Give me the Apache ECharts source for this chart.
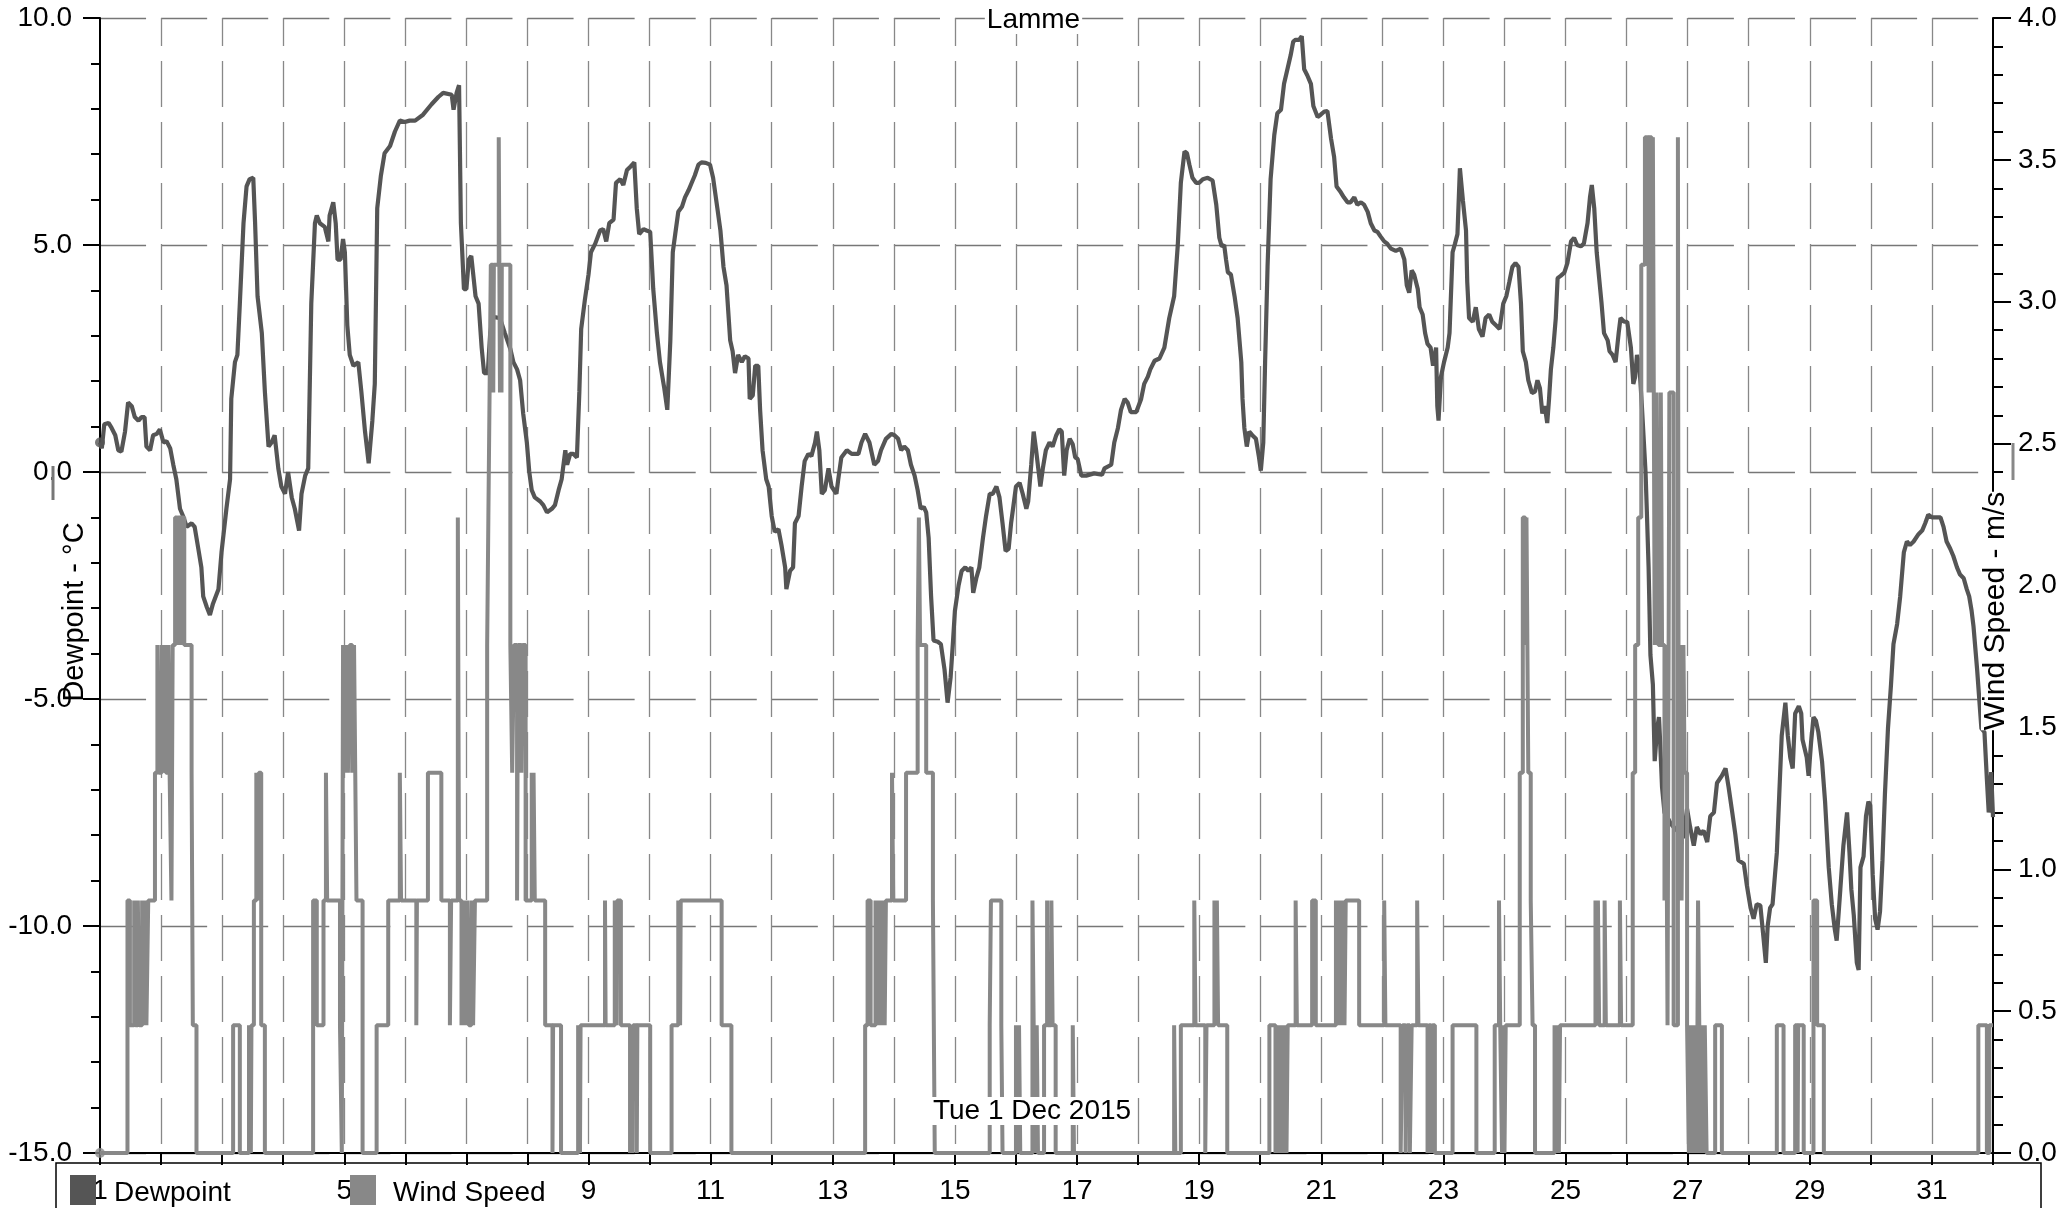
<!DOCTYPE html>
<html><head><meta charset="utf-8">
<script src="https://cdn.jsdelivr.net/npm/echarts@6/dist/echarts.min.js"></script>
<style>html,body{margin:0;padding:0;background:#fff}#c{width:2067px;height:1208px}</style>
</head><body><div id="c"></div>
<script>
const chartTitle = 'Lamme';
const dateLabel = 'Tue 1 Dec 2015';
const seriesNames = ['Dewpoint', 'Wind Speed'];
const leftAxisName = 'Dewpoint - °C';
const rightAxisName = 'Wind Speed - m/s';
const dayLabels = ['1','3','5','7','9','11','13','15','17','19','21','23','25','27','29','31'];
const dewTickLabels = ['-15.0','-10.0','-5.0','0.0','5.0','10.0'];
const windTickLabels = ['0.0','0.5','1.0','1.5','2.0','2.5','3.0','3.5','4.0'];

// [days since 1 Dec 00:00, dewpoint °C]
const dewpoint = [
[0.00,0.65],[0.03,0.52],[0.07,1.05],[0.14,1.08],[0.19,0.97],[0.25,0.81],[0.30,0.48],[0.35,0.45],[0.41,0.89],[0.46,1.53],
[0.52,1.45],[0.57,1.21],[0.63,1.13],[0.68,1.21],[0.73,1.21],[0.76,0.56],[0.82,0.48],[0.87,0.81],[0.93,0.84],[0.98,0.94],
[1.04,0.65],[1.09,0.68],[1.15,0.52],[1.20,0.16],[1.25,-0.16],[1.31,-0.81],[1.36,-0.97],[1.42,-1.21],[1.50,-1.13],[1.55,-1.21],
[1.61,-1.69],[1.66,-2.10],[1.69,-2.74],[1.75,-2.98],[1.80,-3.15],[1.85,-2.90],[1.94,-2.58],[1.99,-1.77],[2.07,-0.81],[2.13,-0.16],
[2.15,1.61],[2.21,2.42],[2.25,2.58],[2.29,3.71],[2.35,5.48],[2.40,6.29],[2.45,6.45],[2.51,6.48],[2.54,5.48],[2.58,3.87],
[2.65,3.06],[2.70,1.77],[2.76,0.56],[2.81,0.65],[2.86,0.81],[2.92,0.08],[2.97,-0.32],[3.03,-0.48],[3.08,0.00],[3.14,-0.56],
[3.19,-0.81],[3.26,-1.29],[3.30,-0.48],[3.36,-0.08],[3.41,0.08],[3.46,3.71],[3.52,5.48],[3.55,5.65],[3.60,5.48],[3.68,5.40],
[3.74,5.08],[3.76,5.65],[3.82,5.94],[3.86,5.48],[3.89,4.68],[3.94,4.68],[3.98,5.13],[4.01,4.84],[4.05,3.23],[4.09,2.58],
[4.15,2.34],[4.23,2.42],[4.28,1.77],[4.34,0.89],[4.40,0.19],[4.46,1.13],[4.50,1.94],[4.54,5.81],[4.60,6.53],[4.66,7.02],
[4.75,7.18],[4.83,7.50],[4.91,7.74],[4.99,7.71],[5.07,7.74],[5.16,7.74],[5.29,7.87],[5.43,8.10],[5.54,8.26],[5.62,8.35],
[5.76,8.31],[5.79,7.98],[5.84,8.35],[5.88,8.52],[5.91,5.48],[5.96,4.03],[6.00,4.03],[6.04,4.68],[6.08,4.76],[6.15,3.87],
[6.20,3.71],[6.25,2.74],[6.29,2.18],[6.35,2.18],[6.39,3.06],[6.43,3.42],[6.55,3.39],[6.63,3.06],[6.72,2.71],[6.77,2.42],
[6.83,2.26],[6.88,2.02],[6.93,1.29],[6.99,0.65],[7.03,0.00],[7.07,-0.40],[7.12,-0.56],[7.21,-0.65],[7.26,-0.73],[7.32,-0.89],
[7.40,-0.81],[7.45,-0.73],[7.51,-0.40],[7.56,-0.16],[7.62,0.48],[7.65,0.16],[7.70,0.40],[7.75,0.40],[7.81,0.32],[7.85,1.77],
[7.88,3.15],[7.94,3.79],[8.00,4.35],[8.04,4.84],[8.11,5.03],[8.19,5.32],[8.24,5.35],[8.29,5.08],[8.34,5.48],[8.41,5.56],
[8.45,6.37],[8.52,6.45],[8.57,6.32],[8.63,6.65],[8.69,6.73],[8.75,6.82],[8.79,5.81],[8.83,5.24],[8.90,5.35],[8.95,5.32],
[9.01,5.29],[9.06,4.03],[9.12,3.06],[9.17,2.42],[9.24,1.85],[9.29,1.37],[9.34,2.90],[9.38,4.84],[9.42,5.24],[9.47,5.73],
[9.53,5.84],[9.58,6.05],[9.64,6.21],[9.69,6.37],[9.74,6.53],[9.80,6.77],[9.85,6.82],[9.92,6.81],[9.99,6.77],[10.04,6.48],
[10.11,5.81],[10.16,5.32],[10.21,4.52],[10.26,4.11],[10.32,2.90],[10.36,2.66],[10.40,2.18],[10.45,2.58],[10.51,2.42],[10.56,2.55],
[10.62,2.50],[10.64,1.61],[10.69,1.69],[10.73,2.34],[10.78,2.34],[10.81,1.37],[10.85,0.48],[10.91,-0.16],[10.95,-0.32],[11.00,-0.97],
[11.05,-1.32],[11.11,-1.26],[11.16,-1.61],[11.22,-2.10],[11.24,-2.58],[11.30,-2.18],[11.35,-2.10],[11.38,-1.13],[11.44,-0.97],[11.49,-0.32],
[11.54,0.24],[11.60,0.40],[11.65,0.35],[11.71,0.65],[11.74,0.89],[11.78,0.48],[11.82,-0.48],[11.87,-0.40],[11.93,0.08],[11.98,-0.32],
[12.06,-0.48],[12.09,-0.16],[12.14,0.32],[12.23,0.48],[12.31,0.40],[12.42,0.40],[12.47,0.65],[12.53,0.84],[12.60,0.65],[12.68,0.16],
[12.74,0.24],[12.79,0.48],[12.87,0.73],[12.96,0.84],[13.01,0.81],[13.07,0.73],[13.12,0.48],[13.17,0.56],[13.23,0.48],[13.28,0.16],
[13.34,-0.08],[13.39,-0.40],[13.44,-0.81],[13.49,-0.77],[13.53,-0.89],[13.57,-1.45],[13.61,-2.74],[13.65,-3.71],[13.72,-3.74],[13.77,-3.79],
[13.83,-4.35],[13.88,-5.08],[13.93,-4.52],[13.97,-3.71],[14.00,-3.06],[14.06,-2.50],[14.11,-2.18],[14.17,-2.10],[14.22,-2.18],[14.27,-2.10],
[14.30,-2.66],[14.35,-2.34],[14.40,-2.10],[14.46,-1.45],[14.51,-0.97],[14.57,-0.48],[14.62,-0.48],[14.68,-0.32],[14.73,-0.56],[14.78,-1.13],
[14.83,-1.74],[14.88,-1.69],[14.92,-1.13],[14.96,-0.73],[15.00,-0.32],[15.06,-0.24],[15.11,-0.48],[15.17,-0.81],[15.20,-0.65],[15.25,0.16],
[15.29,0.89],[15.33,0.48],[15.36,0.48],[15.40,-0.32],[15.44,0.08],[15.49,0.48],[15.55,0.65],[15.60,0.56],[15.66,0.81],[15.71,0.94],
[15.75,0.89],[15.79,-0.08],[15.83,0.48],[15.88,0.73],[15.93,0.61],[15.97,0.32],[16.01,0.29],[16.07,-0.08],[16.15,-0.08],[16.28,-0.03],
[16.41,-0.06],[16.45,0.08],[16.56,0.16],[16.61,0.65],[16.67,0.97],[16.72,1.37],[16.78,1.61],[16.83,1.53],[16.88,1.32],[16.97,1.32],
[17.05,1.61],[17.10,1.94],[17.16,2.10],[17.20,2.26],[17.27,2.45],[17.35,2.50],[17.43,2.74],[17.51,3.39],[17.59,3.87],[17.65,5.00],
[17.70,6.37],[17.76,7.06],[17.80,7.02],[17.84,6.77],[17.89,6.48],[17.95,6.37],[18.00,6.37],[18.06,6.45],[18.14,6.48],[18.22,6.42],
[18.28,5.89],[18.33,5.16],[18.37,4.97],[18.41,5.00],[18.44,4.68],[18.47,4.40],[18.52,4.35],[18.58,3.87],[18.63,3.39],[18.69,2.42],
[18.71,1.61],[18.74,0.97],[18.78,0.56],[18.82,0.89],[18.87,0.81],[18.93,0.73],[18.98,0.32],[19.01,0.03],[19.05,0.65],[19.08,2.42],
[19.12,4.52],[19.17,6.45],[19.23,7.42],[19.28,7.90],[19.34,7.98],[19.39,8.55],[19.45,8.90],[19.50,9.19],[19.54,9.48],[19.58,9.52],
[19.64,9.52],[19.68,9.60],[19.72,8.87],[19.77,8.74],[19.83,8.55],[19.87,8.06],[19.94,7.82],[19.99,7.87],[20.05,7.94],[20.10,7.95],
[20.16,7.34],[20.21,6.94],[20.25,6.29],[20.32,6.16],[20.37,6.05],[20.43,5.94],[20.48,5.94],[20.54,6.05],[20.59,5.89],[20.65,5.94],
[20.70,5.89],[20.76,5.73],[20.81,5.48],[20.87,5.32],[20.92,5.29],[20.97,5.19],[21.03,5.08],[21.08,5.03],[21.14,4.92],[21.22,4.87],
[21.30,4.92],[21.36,4.68],[21.40,4.11],[21.44,3.95],[21.48,4.44],[21.52,4.35],[21.58,4.03],[21.61,3.63],[21.66,3.47],[21.70,3.06],
[21.74,2.82],[21.79,2.74],[21.83,2.34],[21.88,2.74],[21.90,1.45],[21.92,1.13],[21.96,2.10],[22.01,2.42],[22.07,2.74],[22.10,3.06],
[22.15,4.84],[22.19,5.03],[22.23,5.24],[22.27,6.69],[22.32,5.97],[22.37,5.32],[22.39,4.19],[22.42,3.39],[22.48,3.31],[22.53,3.63],
[22.58,3.15],[22.64,2.98],[22.69,3.39],[22.75,3.47],[22.80,3.31],[22.86,3.23],[22.92,3.15],[22.98,3.71],[23.03,3.87],[23.08,4.19],
[23.13,4.52],[23.18,4.60],[23.23,4.52],[23.27,3.71],[23.30,2.66],[23.35,2.42],[23.39,2.02],[23.45,1.74],[23.50,1.77],[23.54,2.02],
[23.58,1.85],[23.62,1.29],[23.66,1.45],[23.70,1.08],[23.73,1.61],[23.76,2.26],[23.80,2.74],[23.84,3.39],[23.87,4.27],[23.92,4.32],
[23.98,4.39],[24.03,4.60],[24.09,5.08],[24.14,5.16],[24.19,5.00],[24.25,4.97],[24.30,5.03],[24.36,5.48],[24.40,6.05],[24.43,6.32],
[24.47,5.81],[24.51,4.84],[24.55,4.27],[24.59,3.71],[24.63,3.06],[24.69,2.90],[24.72,2.66],[24.77,2.58],[24.82,2.42],[24.87,3.06],
[24.90,3.39],[24.96,3.31],[25.01,3.31],[25.07,2.74],[25.11,1.94],[25.14,2.10],[25.17,2.58],[25.21,2.34],[25.25,1.45],[25.31,0.00],
[25.33,-0.81],[25.36,-2.10],[25.39,-4.03],[25.43,-4.68],[25.46,-6.37],[25.50,-5.65],[25.53,-5.40],[25.55,-5.97],[25.58,-6.94],[25.62,-7.50],
[25.66,-7.58],[25.72,-7.74],[25.77,-7.82],[25.83,-7.90],[25.88,-7.98],[25.93,-8.06],[25.99,-7.42],[26.04,-7.82],[26.10,-8.23],[26.15,-7.82],
[26.21,-7.98],[26.26,-7.90],[26.32,-8.15],[26.37,-7.58],[26.43,-7.50],[26.48,-6.85],[26.56,-6.69],[26.62,-6.53],[26.67,-6.94],[26.73,-7.50],
[26.78,-7.98],[26.83,-8.55],[26.92,-8.63],[26.97,-9.11],[27.03,-9.60],[27.08,-9.84],[27.13,-9.52],[27.19,-9.55],[27.24,-10.24],[27.28,-10.81],
[27.31,-10.00],[27.35,-9.60],[27.39,-9.52],[27.43,-8.87],[27.46,-8.39],[27.50,-7.10],[27.54,-5.81],[27.60,-5.08],[27.64,-5.81],[27.68,-6.29],
[27.72,-6.53],[27.76,-5.32],[27.82,-5.16],[27.86,-5.32],[27.88,-5.89],[27.91,-5.89],[27.95,-6.29],[27.98,-6.69],[28.02,-5.97],[28.06,-5.40],
[28.10,-5.48],[28.14,-5.73],[28.17,-5.73],[28.20,-6.37],[28.25,-7.26],[28.31,-8.71],[28.36,-9.52],[28.41,-10.08],[28.44,-10.32],[28.50,-9.19],
[28.55,-8.23],[28.61,-7.50],[28.65,-8.39],[28.68,-9.19],[28.72,-9.76],[28.77,-10.81],[28.80,-10.97],[28.83,-8.71],[28.88,-8.47],[28.92,-7.58],
[28.96,-7.26],[28.99,-7.34],[29.03,-8.87],[29.07,-9.84],[29.11,-10.08],[29.15,-9.68],[29.19,-8.55],[29.23,-7.10],[29.28,-5.65],[29.33,-4.68],
[29.37,-3.79],[29.43,-3.35],[29.48,-2.74],[29.54,-1.77],[29.59,-1.53],[29.64,-1.61],[29.70,-1.53],[29.78,-1.37],[29.84,-1.29],[29.89,-1.13],
[29.94,-0.94],[30.00,-1.00],[30.05,-1.00],[30.14,-1.00],[30.19,-1.21],[30.24,-1.53],[30.30,-1.69],[30.35,-1.85],[30.41,-2.10],[30.46,-2.26],
[30.52,-2.34],[30.57,-2.58],[30.61,-2.74],[30.65,-3.06],[30.68,-3.39],[30.74,-4.35],[30.81,-5.65],[30.86,-5.73],[30.90,-6.77],[30.93,-7.50],
[30.97,-6.61],[31.00,-7.60]
];

// [days since 1 Dec 00:00, wind speed m/s] (value holds until the next reading)
const windSpeed = [
[0,0],[0.45,0.89],[0.49,0.45],[0.56,0.89],[0.58,0.45],[0.62,0.89],[0.64,0.45],[0.69,0.89],[0.71,0.45],[0.74,0.89],[0.76,0.45],[0.79,0.89],
[0.90,1.34],[0.94,1.79],[0.96,1.34],[1.01,1.79],[1.03,1.34],[1.06,1.79],[1.08,1.34],[1.12,1.79],[1.14,1.34],[1.17,0.89],[1.19,1.79],
[1.23,2.24],[1.27,1.79],[1.28,2.24],[1.32,1.79],[1.33,2.24],[1.38,1.79],[1.50,1.34],[1.52,0.45],[1.58,0],
[2.18,0.45],[2.29,0],[2.44,0.45],[2.47,0],[2.48,0.45],[2.52,0.89],[2.56,1.34],[2.58,0.89],[2.60,1.34],[2.64,0.45],[2.70,0],
[3.49,0.89],[3.55,0.45],[3.66,0.89],[3.70,1.34],[3.72,0.89],[3.93,0.45],[3.96,0],[3.98,1.79],[4.00,1.34],[4.03,1.79],[4.06,1.34],
[4.09,1.79],[4.13,1.34],[4.16,1.79],[4.18,1.34],[4.20,0.89],[4.30,0],
[4.53,0.45],[4.72,0.89],[4.91,1.34],[4.93,0.89],[5.18,0.45],[5.19,0.89],[5.37,1.34],[5.59,0.89],[5.73,0.45],[5.75,0.89],[5.86,2.24],
[5.88,0.89],[5.92,0.45],[5.95,0.89],[5.98,0.45],[6.01,0.89],[6.04,0.45],[6.08,0.89],[6.11,0.45],[6.14,0.89],
[6.34,1.79],[6.36,2.24],[6.38,2.68],[6.40,3.13],[6.44,2.68],[6.45,3.13],[6.53,3.58],[6.55,2.68],[6.565,3.13],[6.575,2.68],[6.58,3.13],
[6.72,1.79],[6.75,1.34],[6.78,1.79],[6.83,0.89],[6.845,1.79],[6.90,1.34],[6.92,1.79],[6.97,0.89],[7.07,1.34],[7.09,0.89],[7.10,1.34],
[7.12,0.89],[7.29,0.45],[7.41,0],[7.42,0.45],[7.55,0],
[7.83,0.45],[7.84,0],[7.85,0.45],[7.86,0],[7.87,0.45],[8.27,0.89],[8.28,0.45],[8.43,0.89],[8.44,0.45],[8.45,0.89],[8.46,0.45],
[8.47,0.89],[8.53,0.45],[8.68,0],[8.69,0.45],[8.72,0],[8.73,0.45],[8.79,0],[8.80,0.45],[9.01,0],
[9.36,0.45],[9.47,0.89],[9.48,0.45],[9.49,0.89],[9.50,0.45],[9.51,0.89],[10.18,0.45],[10.34,0],
[12.53,0.45],[12.57,0.89],[12.62,0.45],[12.70,0.89],[12.73,0.45],[12.75,0.89],[12.77,0.45],[12.79,0.89],[12.81,0.45],[12.83,0.89],
[12.85,0.45],[12.87,0.89],[12.97,1.34],[12.99,0.89],[13.20,1.34],[13.39,1.79],[13.41,2.24],[13.43,1.79],[13.53,1.34],[13.64,0.89],[13.67,0],
[14.57,0.45],[14.59,0.89],[14.76,0.45],[14.78,0],[15.00,0.45],[15.02,0],[15.05,0.45],[15.07,0],[15.27,0.89],[15.29,0.45],[15.31,0],
[15.34,0.45],[15.36,0],[15.46,0.45],[15.51,0.89],[15.52,0.45],[15.58,0.89],[15.60,0.45],[15.65,0],[15.93,0.45],[15.95,0],
[17.59,0.45],[17.61,0],[17.70,0.45],[17.92,0.89],[17.94,0.45],[18.10,0],[18.12,0.45],[18.25,0.89],[18.27,0.45],[18.29,0.89],[18.31,0.45],[18.46,0],
[19.15,0.45],[19.25,0],[19.27,0.45],[19.30,0],[19.32,0.45],[19.34,0],[19.36,0.45],[19.38,0],[19.41,0.45],[19.43,0],[19.45,0.45],
[19.58,0.89],[19.60,0.45],[19.85,0.89],[19.91,0.45],[20.24,0.89],[20.26,0.45],[20.28,0.89],[20.30,0.45],[20.32,0.89],[20.34,0.45],
[20.36,0.89],[20.38,0.45],[20.40,0.89],[20.62,0.45],[21.03,0.89],[21.05,0.45],[21.30,0],[21.33,0.45],[21.38,0],[21.40,0.45],[21.45,0],
[21.48,0.45],[21.57,0.89],[21.59,0.45],[21.74,0],[21.76,0.45],[21.80,0],[21.82,0.45],[21.86,0],[22.15,0.45],[22.54,0],[22.84,0.45],
[22.91,0.89],[22.93,0.45],[22.96,0],[22.99,0.45],[23.00,0],[23.02,0.45],[23.25,1.34],[23.30,2.24],[23.34,1.79],[23.36,2.24],[23.39,1.34],
[23.43,0.89],[23.46,0.45],[23.50,0],[23.82,0.45],[23.85,0],[23.87,0.45],[23.89,0],[23.91,0.45],[24.49,0.89],[24.51,0.45],[24.53,0.89],
[24.55,0.45],[24.64,0.89],[24.66,0.45],[24.89,0.89],[24.91,0.45],
[25.10,1.34],[25.14,1.79],[25.19,2.24],[25.24,3.13],[25.30,3.58],[25.36,2.68],[25.37,3.58],[25.41,2.68],[25.43,3.58],[25.46,1.79],
[25.49,2.68],[25.52,1.79],[25.56,2.68],[25.58,1.79],[25.62,0.89],[25.64,1.79],[25.67,0.45],[25.70,2.68],[25.77,0.45],[25.84,3.58],
[25.855,0.89],[25.88,1.79],[25.90,0.89],[25.93,1.79],[25.95,1.34],[25.99,0.45],[26.02,0],[26.04,0.45],[26.06,0],[26.08,0.45],[26.11,0],
[26.13,0.45],[26.15,0],[26.17,0.89],[26.19,0.45],[26.21,0],[26.23,0.45],[26.26,0],[26.28,0.45],[26.31,0],[26.45,0.45],[26.56,0],
[27.46,0.45],[27.57,0],[27.76,0.45],[27.80,0],[27.81,0.45],[27.90,0],[28.06,0.89],[28.12,0.45],[28.23,0],
[30.76,0.45],[30.90,0],[30.94,0.45],[31.00,0.45]
];

const FONT = "'Liberation Sans', Arial, sans-serif";
const DEW_COLOR = '#555555';
const WIND_COLOR = '#888888';

const chart = echarts.init(document.getElementById('c'), null, {renderer: 'canvas'});
const option = {
  animation: false,
  backgroundColor: '#fff',
  textStyle: {fontFamily: FONT},
  title: {
    text: chartTitle, left: 'center', top: 6, padding: [0, 2],
    backgroundColor: '#fff',
    textStyle: {fontFamily: FONT, fontSize: 28, fontWeight: 'normal', color: '#000', lineHeight: 28}
  },
  grid: {left: 100, right: 74, top: 18, bottom: 55, containLabel: false},
  xAxis: {
    type: 'value', min: 0, max: 31, interval: 1,
    axisLine: {onZero: false, lineStyle: {color: '#000', width: 2}},
    axisTick: {length: 12, lineStyle: {color: '#000', width: 2}},
    axisLabel: {
      fontFamily: FONT, fontSize: 28, color: '#000', margin: 24,
      formatter: v => (v % 2 === 0 ? dayLabels[v / 2] : '')
    },
    splitLine: {show: true, showMinLine: false, showMaxLine: false,
      lineStyle: {color: '#888', width: 1.3, type: [46, 15], dashOffset: 18}}
  },
  yAxis: [{
    type: 'value', min: -15, max: 10, interval: 5, position: 'left',
    axisLine: {show: true, onZero: false, lineStyle: {color: '#000', width: 2}},
    axisTick: {show: true, length: 17, lineStyle: {color: '#000', width: 2}},
    minorTick: {show: true, splitNumber: 5, length: 9, lineStyle: {color: '#000', width: 2}},
    axisLabel: {fontFamily: FONT, fontSize: 28, color: '#000', margin: 28,
      formatter: v => dewTickLabels[Math.round((v + 15) / 5)]},
    splitLine: {show: true, lineStyle: {color: '#777', width: 1.3, type: [46.07, 15]}}
  }, {
    type: 'value', min: 0, max: 4, interval: 0.5, position: 'right',
    axisLine: {show: true, onZero: false, lineStyle: {color: '#000', width: 2}},
    axisTick: {show: true, length: 18, lineStyle: {color: '#000', width: 2}},
    minorTick: {show: true, splitNumber: 5, length: 10, lineStyle: {color: '#000', width: 2}},
    axisLabel: {fontFamily: FONT, fontSize: 28, color: '#000', margin: 25,
      formatter: v => windTickLabels[Math.round(v / 0.5)]},
    splitLine: {show: false}
  }],
  series: [{
    name: seriesNames[0], type: 'line', yAxisIndex: 0, data: dewpoint,
    showSymbol: false, lineStyle: {color: DEW_COLOR, width: 4.2}, z: 3
  }, {
    name: seriesNames[1], type: 'line', yAxisIndex: 1, data: windSpeed, step: 'end',
    showSymbol: false, lineStyle: {color: WIND_COLOR, width: 4}, z: 4
  }, {
    type: 'scatter', yAxisIndex: 0, data: [dewpoint[0]], symbolSize: 10,
    itemStyle: {color: DEW_COLOR}, z: 5, silent: true
  }, {
    type: 'scatter', yAxisIndex: 1, data: [windSpeed[0]], symbolSize: 10,
    itemStyle: {color: WIND_COLOR}, z: 5, silent: true
  }],
  graphic: [
    {type: 'text', x: 75, y: 612, rotation: Math.PI / 2, z: 50,
      style: {text: leftAxisName, font: '29px ' + FONT, fill: '#000', align: 'center', verticalAlign: 'middle'}},
    {type: 'text', x: 1996, y: 611, rotation: Math.PI / 2, z: 50,
      style: {text: rightAxisName, font: '30px ' + FONT, fill: '#000', align: 'center', verticalAlign: 'middle',
        backgroundColor: '#fff'}},
    {type: 'text', x: 1032, y: 1111, z: 50,
      style: {text: dateLabel, font: '28px ' + FONT, fill: '#000', align: 'center', verticalAlign: 'middle',
        backgroundColor: '#fff', padding: [0, 2]}},
    {type: 'line', z: 40, shape: {x1: 53, y1: 466, x2: 53, y2: 500}, style: {stroke: '#777', lineWidth: 3}},
    {type: 'line', z: 40, shape: {x1: 2013, y1: 443, x2: 2013, y2: 480}, style: {stroke: '#888', lineWidth: 3}},
    {type: 'rect', z: 45, shape: {x: 56, y: 1163, width: 1985, height: 100}, style: {fill: null, stroke: '#000', lineWidth: 1.5}},
    {type: 'rect', z: 60, shape: {x: 70, y: 1175, width: 26, height: 30}, style: {fill: DEW_COLOR}},
    {type: 'text', x: 114, y: 1193, z: 55,
      style: {text: seriesNames[0], font: '28px ' + FONT, fill: '#000', align: 'left', verticalAlign: 'middle', backgroundColor: '#fff'}},
    {type: 'rect', z: 60, shape: {x: 350, y: 1175, width: 26, height: 30}, style: {fill: WIND_COLOR}},
    {type: 'text', x: 393, y: 1193, z: 55,
      style: {text: seriesNames[1], font: '28px ' + FONT, fill: '#000', align: 'left', verticalAlign: 'middle', backgroundColor: '#fff'}}
  ]
};
chart.setOption(option);
</script>
</body></html>
